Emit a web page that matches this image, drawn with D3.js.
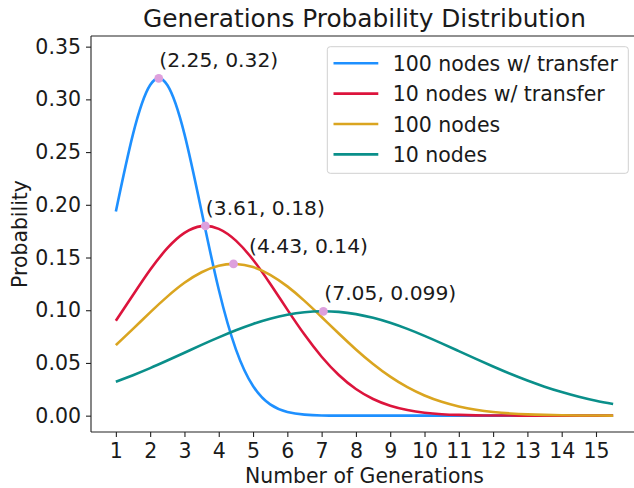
<!DOCTYPE html>
<html>
<head>
<meta charset="utf-8">
<script src="https://cdn.jsdelivr.net/npm/d3@7"></script>
<style>
  html, body { margin: 0; padding: 0; background: #fff; }
  svg { display: block; font-family: "DejaVu Sans", sans-serif; }
</style>
</head>
<body>
<svg id="chart" width="634" height="488"></svg>
<script>
// ---- data ----
const generations = [1, 1.5, 2, 2.5, 3, 3.5, 4, 4.5, 5, 5.5, 6, 6.5, 7, 7.5, 8, 8.5, 9, 9.5, 10, 10.5, 11, 11.5, 12, 12.5, 13, 13.5, 14, 14.5, 15, 15.5];
const seriesNames = ["100 nodes w/ transfer", "10 nodes w/ transfer", "100 nodes", "10 nodes"];
const blueValues = [0.1936, 0.2670, 0.3136, 0.3136, 0.2670, 0.1936, 0.1196, 0.0629, 0.0281, 0.0107, 0.0035, 0.0010, 0.0002, 0.0000, 0, 0, 0, 0, 0, 0, 0, 0, 0, 0, 0, 0, 0, 0, 0, 0];
const redValues = [0.0900, 0.1144, 0.1383, 0.1588, 0.1733, 0.1798, 0.1772, 0.1660, 0.1479, 0.1251, 0.1006, 0.0769, 0.0559, 0.0386, 0.0253, 0.0158, 0.0094, 0.0053, 0.0028, 0.0014, 0.0007, 0.0003, 0.0001, 0.0001, 0, 0, 0, 0, 0, 0];
const yellowValues = [0.0669, 0.0823, 0.0980, 0.1129, 0.1260, 0.1360, 0.1422, 0.1439, 0.1409, 0.1336, 0.1226, 0.1089, 0.0936, 0.0779, 0.0628, 0.0490, 0.0370, 0.0270, 0.0191, 0.0131, 0.0087, 0.0056, 0.0035, 0.0021, 0.0012, 0.0007, 0.0004, 0.0002, 0.0001, 0.0000];
const tealValues = [0.0321, 0.0384, 0.0451, 0.0523, 0.0597, 0.0672, 0.0743, 0.0810, 0.0870, 0.0919, 0.0957, 0.0981, 0.0990, 0.0984, 0.0963, 0.0928, 0.0881, 0.0823, 0.0757, 0.0686, 0.0612, 0.0538, 0.0466, 0.0397, 0.0333, 0.0275, 0.0224, 0.0179, 0.0141, 0.0110];
const peakX = [2.25, 3.61, 4.43, 7.05];
const peakY = [0.32, 0.18, 0.1439, 0.099];
const peakLabels = ["(2.25, 0.32)", "(3.61, 0.18)", "(4.43, 0.14)", "(7.05, 0.099)"];
const xTicks = [1, 2, 3, 4, 5, 6, 7, 8, 9, 10, 11, 12, 13, 14, 15];
const yTicks = [0.00, 0.05, 0.10, 0.15, 0.20, 0.25, 0.30, 0.35];

// ---- styles ----
const colors = ["#1e90ff", "#dc143c", "#daa520", "#0a8f8a"];
const labelDx = [0.5, 0.5, 15.5, 1];
const allValues = [blueValues, redValues, yellowValues, tealValues];

const svg = d3.select("#chart");
const plot = { left: 91, right: 638, top: 36, bottom: 432 };

const x = d3.scaleLinear().domain([0.275, 16.225]).range([plot.left, plot.right]);
const y = d3.scaleLinear().domain([-0.0155, 0.3601]).range([plot.bottom, plot.top]);

// axes
const xAxis = d3.axisBottom(x).tickValues(xTicks).tickFormat(d3.format("d")).tickSize(5).tickPadding(6.5).tickSizeOuter(0);
const yAxis = d3.axisLeft(y).tickValues(yTicks).tickFormat(d3.format(".2f")).tickSize(5).tickPadding(5).tickSizeOuter(0);

const gx = svg.append("g").attr("transform", `translate(0,${plot.bottom})`).call(xAxis);
const gy = svg.append("g").attr("transform", `translate(${plot.left},0)`).call(yAxis);
[gx, gy].forEach(g => {
  g.selectAll("text").attr("font-size", 20.5).attr("fill", "#1a1a1a").attr("font-family", "DejaVu Sans");
  g.selectAll("line").attr("stroke", "#222").attr("stroke-width", 1.1);
  g.select(".domain").remove();
});

// spines
svg.append("line").attr("x1", plot.left).attr("x2", plot.left).attr("y1", plot.top).attr("y2", plot.bottom).attr("stroke", "#222").attr("stroke-width", 1.1);
svg.append("line").attr("x1", plot.left).attr("x2", plot.right).attr("y1", plot.bottom).attr("y2", plot.bottom).attr("stroke", "#222").attr("stroke-width", 1.1);
svg.append("line").attr("x1", plot.left).attr("x2", plot.right).attr("y1", plot.top).attr("y2", plot.top).attr("stroke", "#222").attr("stroke-width", 1.1);
svg.append("line").attr("x1", plot.right).attr("x2", plot.right).attr("y1", plot.top).attr("y2", plot.bottom).attr("stroke", "#222").attr("stroke-width", 1.1);

// lines
const line = d3.line().x((d, i) => x(generations[i])).y(d => y(d)).curve(d3.curveNatural);
allValues.forEach((vals, k) => {
  svg.append("path").datum(vals).attr("d", line).attr("fill", "none")
    .attr("stroke", colors[k]).attr("stroke-width", 2.6).attr("stroke-linejoin", "round").attr("stroke-linecap", "butt");
});

// peak markers + annotations
peakX.forEach((px, i) => {
  svg.append("circle").attr("cx", x(px)).attr("cy", y(peakY[i])).attr("r", 4.4).attr("fill", "#dda0dd");
  svg.append("text").attr("x", x(px) + labelDx[i]).attr("y", y(peakY[i]) - 11)
    .attr("font-size", 20.3).attr("fill", "#1a1a1a").text(peakLabels[i]);
});

// title and axis labels
svg.append("text").attr("x", (plot.left + plot.right) / 2).attr("y", 26.5).attr("text-anchor", "middle")
  .attr("font-size", 24.8).attr("fill", "#1a1a1a").text("Generations Probability Distribution");
svg.append("text").attr("x", (plot.left + plot.right) / 2).attr("y", 482.5).attr("text-anchor", "middle")
  .attr("font-size", 20.4).attr("fill", "#1a1a1a").text("Number of Generations");
svg.append("text").attr("transform", `translate(27,${(plot.top + plot.bottom) / 2}) rotate(-90)`).attr("text-anchor", "middle")
  .attr("font-size", 20.4).attr("fill", "#1a1a1a").text("Probability");

// legend
const lg = svg.append("g");
lg.append("rect").attr("x", 327.3).attr("y", 46.7).attr("width", 301).attr("height", 126.6).attr("rx", 3)
  .attr("fill", "#fff").attr("fill-opacity", 0.8).attr("stroke", "#d0d0d0").attr("stroke-width", 1);
seriesNames.forEach((name, i) => {
  const ly = 63.3 + i * 30.35;
  lg.append("line").attr("x1", 333.5).attr("x2", 378.3).attr("y1", ly).attr("y2", ly)
    .attr("stroke", colors[i]).attr("stroke-width", 2.6);
  lg.append("text").attr("x", 392.7).attr("y", ly + 7.5).attr("font-size", 20.5).attr("fill", "#1a1a1a").text(name);
});
</script>
</body>
</html>
